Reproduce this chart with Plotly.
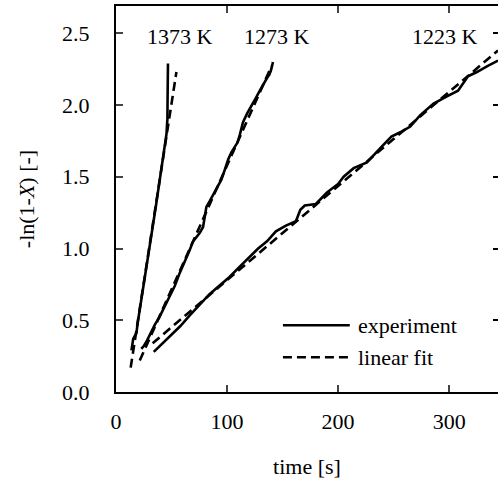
import plotly.graph_objects as go

# ---------------- data ----------------
t_1373_exp = [13.9, 14.4, 15.5, 16.8, 18.4, 19.5, 21.4, 24.3, 27.0, 30.0, 33.0, 36.0,
              39.0, 41.4, 44.0, 45.5, 46.0, 46.3, 46.4, 46.6, 46.8]
v_1373_exp = [0.29, 0.33, 0.37, 0.39, 0.41, 0.48, 0.57, 0.71, 0.85, 1.00, 1.15, 1.30,
              1.45, 1.57, 1.71, 1.80, 1.87, 1.90, 2.00, 2.15, 2.29]
t_1373_fit = [13.2, 54.4]
v_1373_fit = [0.17, 2.23]

t_1273_exp = [22.8, 25.0, 28.0, 31.0, 35.0, 39.0, 44.0, 48.4, 53.0, 57.4, 61.0, 63.4,
              66.4, 69.4, 72.4, 75.5, 78.4, 80.0, 81.4, 84.4, 87.4, 90.5, 94.9, 98.0,
              101.0, 103.9, 107.0, 109.5, 111.4, 114.4, 118.0, 122.0, 126.0, 129.5,
              133.0, 136.9, 138.0, 139.5, 140.9, 141.3]
v_1273_exp = [0.30, 0.32, 0.36, 0.41, 0.47, 0.52, 0.60, 0.66, 0.74, 0.83, 0.89, 0.94,
              0.99, 1.05, 1.08, 1.11, 1.15, 1.22, 1.29, 1.33, 1.37, 1.42, 1.48, 1.55,
              1.62, 1.67, 1.71, 1.74, 1.79, 1.88, 1.94, 2.00, 2.05, 2.10,
              2.15, 2.20, 2.21, 2.24, 2.285, 2.30]
t_1273_fit = [21.4, 140.0]
v_1273_fit = [0.22, 2.27]

t_1223_exp = [34, 38, 44, 50, 58, 66, 74, 84, 93, 102, 111, 120, 128, 136, 144, 153,
              162, 166, 170, 180, 190, 200, 205, 214, 226, 238, 248, 256, 265, 274,
              286, 298, 308, 317, 325, 334, 344]
v_1223_exp = [0.28, 0.31, 0.36, 0.40, 0.46, 0.53, 0.60, 0.68, 0.74, 0.80, 0.87, 0.94,
              1.00, 1.05, 1.12, 1.16, 1.19, 1.27, 1.30, 1.31, 1.39, 1.45, 1.50, 1.56,
              1.60, 1.70, 1.78, 1.81, 1.85, 1.93, 2.01, 2.06, 2.10, 2.20, 2.23, 2.27, 2.31]
t_1223_fit = [33.0, 344.0]
v_1223_fit = [0.34, 2.38]

series_labels = ["1373 K", "1273 K", "1223 K"]
label_t = [57.4, 145.2, 296.6]
label_v = [2.48, 2.48, 2.48]

x_ticks = [0, 100, 200, 300]
y_ticks = [0.0, 0.5, 1.0, 1.5, 2.0, 2.5]
y_tick_text = ["0.0", "0.5", "1.0", "1.5", "2.0", "2.5"]

# ---------------- figure ----------------
FONT = "Liberation Serif, Times New Roman, serif"
FS = 22
LW = 2.6
DASH = "9px,5px"
Y_RANGE = [0, 2.69]

fig = go.Figure()
exp_sets = [(t_1373_exp, v_1373_exp), (t_1273_exp, v_1273_exp), (t_1223_exp, v_1223_exp)]
fit_sets = [(t_1373_fit, v_1373_fit), (t_1273_fit, v_1273_fit), (t_1223_fit, v_1223_fit)]
# the fits are drawn against the (identically scaled) right-hand axis, which carries
# the mirrored inside ticks on the right edge
for (tf, vf) in fit_sets:
    fig.add_trace(go.Scatter(x=tf, y=vf, mode="lines", showlegend=False, yaxis="y2",
                             line=dict(color="black", width=LW, dash=DASH)))
for (te, ve) in exp_sets:
    fig.add_trace(go.Scatter(x=te, y=ve, mode="lines", showlegend=False,
                             line=dict(color="black", width=LW)))

for lab, lt, lv in zip(series_labels, label_t, label_v):
    fig.add_annotation(x=lt, y=lv, text=lab, showarrow=False,
                       font=dict(family=FONT, size=FS, color="black"),
                       xanchor="center", yanchor="middle")

# legend drawn manually (long line samples as in the reference)
leg_items = [("experiment", None, 0.173), ("linear fit", DASH, 0.09)]
for text, dash, yy in leg_items:
    fig.add_shape(type="line", xref="paper", yref="paper", x0=0.437, x1=0.612,
                  y0=yy, y1=yy, line=dict(color="black", width=LW, dash=dash))
    fig.add_annotation(xref="paper", yref="paper", x=0.628, y=yy, text=text,
                       showarrow=False, xanchor="left", yanchor="middle",
                       font=dict(family=FONT, size=FS, color="black"))

fig.update_layout(
    width=498, height=481,
    margin=dict(l=116, r=0, t=6, b=89),
    paper_bgcolor="white", plot_bgcolor="white",
    font=dict(family=FONT, size=FS, color="black"),
    showlegend=False,
    xaxis=dict(range=[0, 344], tickvals=x_ticks, ticks="inside", ticklen=7, tickwidth=2,
               showline=True, linewidth=2.2, linecolor="black", mirror="ticks",
               showgrid=False, zeroline=False, ticklabelstandoff=8,
               title=dict(text="time [s]", standoff=26, font=dict(size=FS))),
    yaxis=dict(range=Y_RANGE, tickvals=y_ticks, ticktext=y_tick_text, ticks="inside",
               ticklen=7, tickwidth=2, showline=True, linewidth=2.2, linecolor="black",
               showgrid=False, zeroline=False, ticklabelstandoff=20,
               title=dict(text="-ln(1-<i>X</i>) [-]", standoff=21, font=dict(size=FS))),
    yaxis2=dict(range=Y_RANGE, tickvals=y_ticks, overlaying="y", side="right",
                ticks="inside", ticklen=5, tickwidth=2, tickcolor="black",
                showticklabels=False, showline=False, showgrid=False, zeroline=False),
)

fig.write_html("out.html", config={"displayModeBar": False},
               post_script="document.body.style.margin='0px';")
